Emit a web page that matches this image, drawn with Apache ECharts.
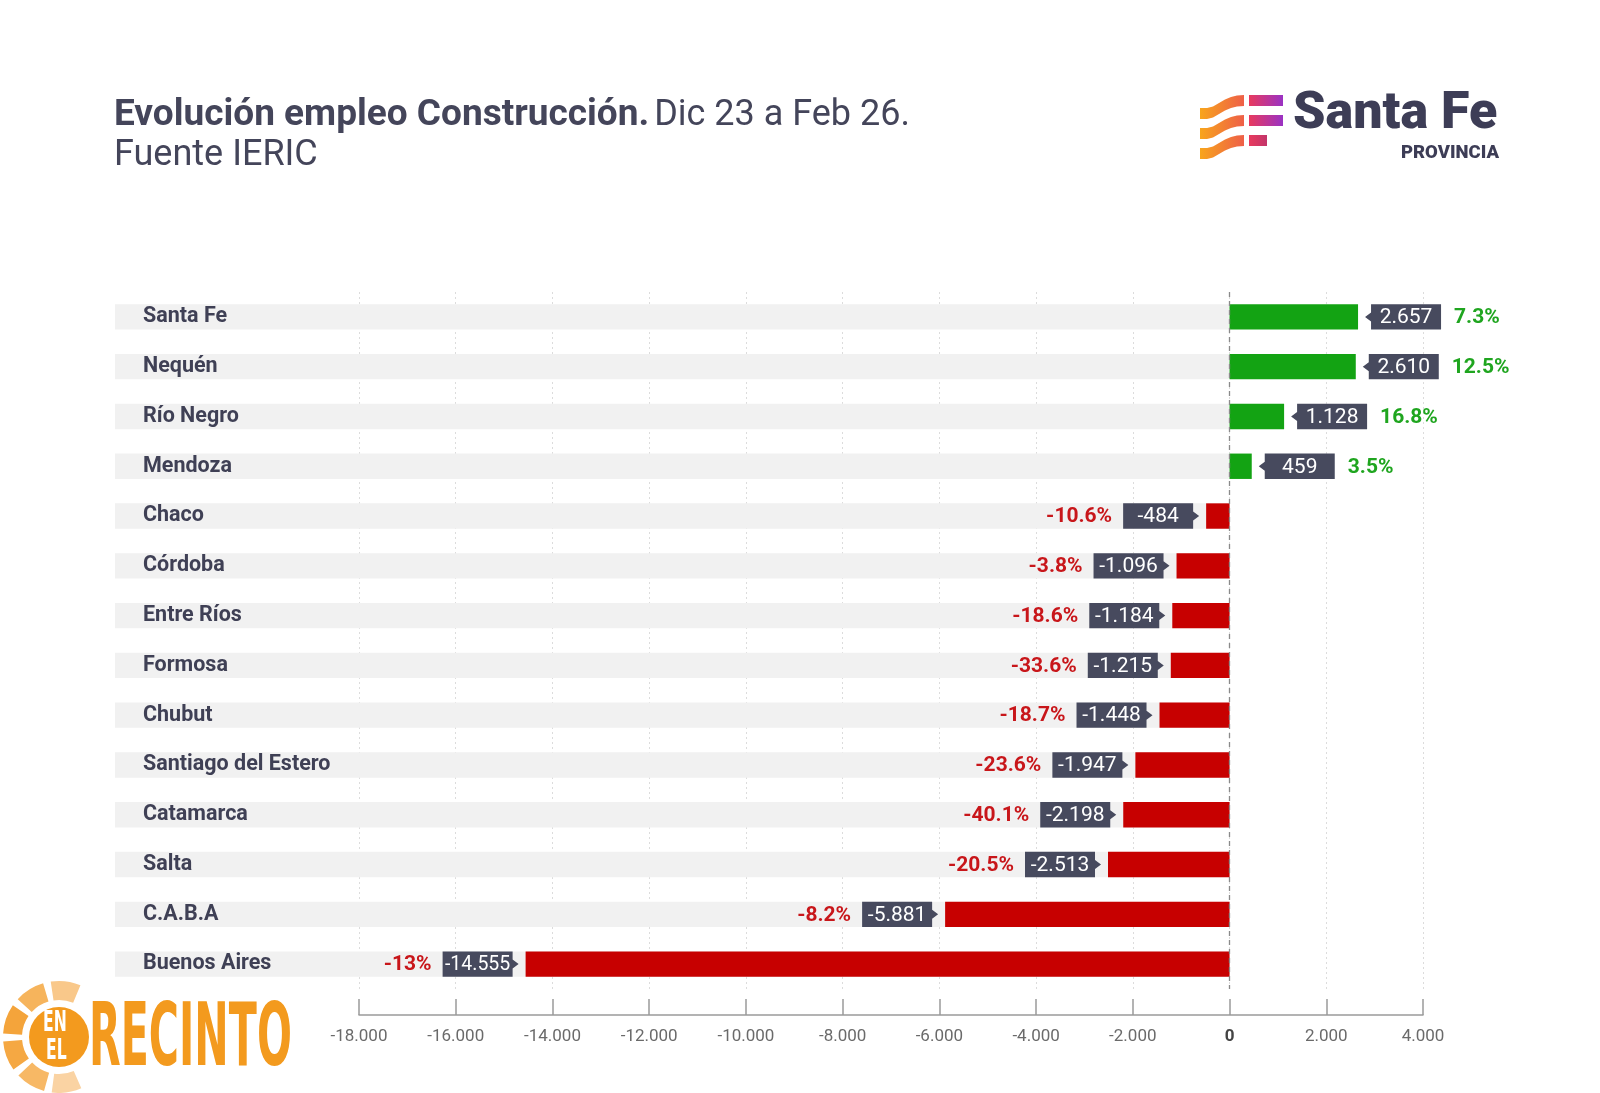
<!DOCTYPE html>
<html>
<head>
<meta charset="utf-8">
<script src="https://cdn.jsdelivr.net/npm/echarts@6/dist/echarts.min.js"></script>
<style>
html,body{margin:0;padding:0;background:#fff;}
#chart{width:1600px;height:1093px;}
</style>
</head>
<body>
<div id="chart"></div>
<script>
// ---- data ----
const categories = ['Santa Fe','Nequén','Río Negro','Mendoza','Chaco','Córdoba','Entre Ríos','Formosa','Chubut','Santiago del Estero','Catamarca','Salta','C.A.B.A','Buenos Aires'];
const values = [2657, 2610, 1128, 459, -484, -1096, -1184, -1215, -1448, -1947, -2198, -2513, -5881, -14555];
const pctLabels = ['7.3%','12.5%','16.8%','3.5%','-10.6%','-3.8%','-18.6%','-33.6%','-18.7%','-23.6%','-40.1%','-20.5%','-8.2%','-13%'];
const axisMin = -18000, axisMax = 4000, axisStep = 2000;

// ---- helpers ----
function fmt(v){
  const s = Math.abs(v).toString().replace(/\B(?=(\d{3})+(?!\d))/g,'.');
  return (v < 0 ? '-' : '') + s;
}
const GREEN = '#13a313', RED = '#c70000', BOX = '#474a5e', INK = '#3f4055';
const FONT = 'Roboto';

const chart = echarts.init(document.getElementById('chart'), null, {renderer:'canvas'});

const bandData = categories.map((c,i)=>[0,i]);
const labelData = values.map((v,i)=>[v,i,pctLabels[i]]);

function grad(c1,c2){
  return {type:'linear',x:0,y:0,x2:1,y2:0,colorStops:[{offset:0,color:c1},{offset:1,color:c2}]};
}
function wave(dy){
  const top = [[1200,108],[1207,108],[1213,106.5],[1219,103],[1225,99.5],[1231,97],[1237,95.5],[1244,95]];
  const bot = top.slice().reverse().map(p=>[p[0], p[1]+11]);
  return top.concat(bot).map(p=>[p[0], p[1]+dy]);
}
const SUN_C = [59, 1037];
const sunSegAngles = [-83, -122, -161, -200, -239, -278];
const sunSegColors = ['#f9c88a', '#f6b45c', '#f4a43b', '#f5a843', '#f7b865', '#fad3a3'];
const sunSegs = sunSegAngles.map((a,i)=>({
  type:'sector',
  shape:{cx:SUN_C[0], cy:SUN_C[1], r0:37, r:56, startAngle:(a-15.5)*Math.PI/180, endAngle:(a+15.5)*Math.PI/180},
  style:{fill:sunSegColors[i]}
}));

const option = {
  backgroundColor:'#fff',
  animation:false,
  title:{
    left:109, top:91,
    text:'{b|Evolución empleo Construcción.} {r|Dic 23 a Feb 26.}\n{r|Fuente IERIC}',
    textStyle:{
      rich:{
        b:{fontFamily:FONT,fontWeight:'bold',fontSize:37,color:'#44455a',lineHeight:40},
        r:{fontFamily:FONT,fontWeight:'normal',fontSize:36,color:'#44455a',lineHeight:40}
      }
    }
  },
  grid:{left:359, right:177, top:292, bottom:104, containLabel:false},
  xAxis:{
    type:'value', min:axisMin, max:axisMax, interval:axisStep,
    offset:26,
    axisLine:{show:true,lineStyle:{color:'#9a9a9a',width:1.5}},
    axisTick:{show:true,inside:true,length:16,lineStyle:{color:'#9a9a9a',width:1.5}},
    axisLabel:{
      margin:13, fontFamily:FONT, fontSize:17, color:'#6a6a6a',
      formatter:function(v){ return v===0 ? '{z|0}' : fmt(v); },
      rich:{z:{fontFamily:FONT,fontSize:17,fontWeight:'bold',color:'#444'}}
    },
    splitLine:{show:true,lineStyle:{color:'#dcdcdc',type:[2,3],width:1}}
  },
  yAxis:{
    type:'category', data:categories, inverse:true, z:10,
    axisLine:{show:false}, axisTick:{show:false},
    axisLabel:{margin:216, align:'left', fontFamily:FONT, fontSize:21.5, fontWeight:'bold', color:INK}
  },
  series:[
    {
      name:'band', type:'custom', z:1, silent:true,
      data:bandData,
      renderItem:function(params, api){
        const p = api.coord([0, api.value(1)]);
        const h = api.size([0,1])[1]*0.51;
        return {type:'rect', shape:{x:115, y:p[1]-h/2, width:p[0]-115, height:h}, style:{fill:'#f1f1f1'}};
      }
    },
    {
      name:'Empleo', type:'bar', z:2, data:values, barWidth:'51%',
      itemStyle:{color:function(p){ return p.value >= 0 ? GREEN : RED; }},
      markLine:{
        silent:true, symbol:['none','none'], label:{show:false},
        lineStyle:{color:'#8a8a8a', type:[5,4], width:1.3},
        data:[{xAxis:0}]
      }
    },
    {
      name:'labels', type:'custom', z:3, silent:true,
      data:labelData,
      renderItem:function(params, api){
        const v = api.value(0);
        const p = api.coord([v, api.value(1)]);
        const h = api.size([0,1])[1]*0.51;
        const cy = p[1], top = cy-h/2, bot = cy+h/2;
        const w = 70, gap = 13, tip = 7, ah = 4.5;
        const pct = labelData[params.dataIndex][2];
        let pts, tx, px, pAlign, pColor;
        if (v >= 0) {
          const bx = p[0]+gap;
          pts = [[p[0]+tip,cy],[bx,cy-ah],[bx,top],[bx+w,top],[bx+w,bot],[bx,bot],[bx,cy+ah]];
          tx = bx + w/2; px = bx + w + 13; pAlign='left'; pColor='#1fa51f';
        } else {
          const bx = p[0]-gap;
          pts = [[p[0]-tip,cy],[bx,cy-ah],[bx,top],[bx-w,top],[bx-w,bot],[bx,bot],[bx,cy+ah]];
          tx = bx - w/2; px = bx - w - 11; pAlign='right'; pColor='#c8161a';
        }
        const txt = fmt(v);
        return {type:'group', children:[
          {type:'polygon', shape:{points:pts}, style:{fill:BOX}},
          {type:'text', style:{x:tx, y:cy+1, text:txt, align:'center', verticalAlign:'middle',
            fill:'#fff', font:'normal ' + (txt.length > 6 ? 19.5 : 21) + 'px '+FONT}},
          {type:'text', style:{x:px, y:cy+1, text:pct, align:pAlign, verticalAlign:'middle',
            fill:pColor, font:'bold 21px '+FONT}}
        ]};
      }
    }
  ],
  graphic:[
    // Santa Fe logo
    {type:'polygon', shape:{points:wave(0)}, style:{fill:grad('#f8a51c','#ee5f48')}},
    {type:'polygon', shape:{points:wave(20)}, style:{fill:grad('#f8a51c','#ee5f48')}},
    {type:'polygon', shape:{points:wave(40)}, style:{fill:grad('#f8a51c','#ee5f48')}},
    {type:'rect', shape:{x:1249,y:95,width:34,height:11}, style:{fill:grad('#e83a5e','#9a32c4')}},
    {type:'rect', shape:{x:1249,y:115,width:34,height:11}, style:{fill:grad('#e83a5e','#9a32c4')}},
    {type:'rect', shape:{x:1249,y:135,width:18,height:11}, style:{fill:grad('#e83a5e','#c2356a')}},
    {type:'text', x:1293, y:89, style:{text:'Santa Fe', font:'900 52px '+FONT, fill:'#3d3d56'}},
    {type:'text', x:1499, y:144, style:{text:'PROVINCIA', align:'right', font:'900 18.5px '+FONT, fill:'#3d3d56'}},
    // En el Recinto watermark
    ...sunSegs,
    {type:'circle', shape:{cx:SUN_C[0],cy:SUN_C[1],r:30}, style:{fill:'#f39a1e'}},
    {type:'text', x:43, y:1010, scaleX:0.62, style:{text:'EN', font:'bold 28px "DejaVu Sans Condensed"', fill:'#fff'}},
    {type:'text', x:46, y:1038, scaleX:0.62, style:{text:'EL', font:'bold 28px "DejaVu Sans Condensed"', fill:'#fff'}},
    {type:'text', x:89, y:998, scaleX:0.52, style:{text:'RECINTO', font:'bold 88px "DejaVu Sans Condensed"', fill:'#f39a1e'}}
  ]
};
chart.setOption(option);
</script>
</body>
</html>
